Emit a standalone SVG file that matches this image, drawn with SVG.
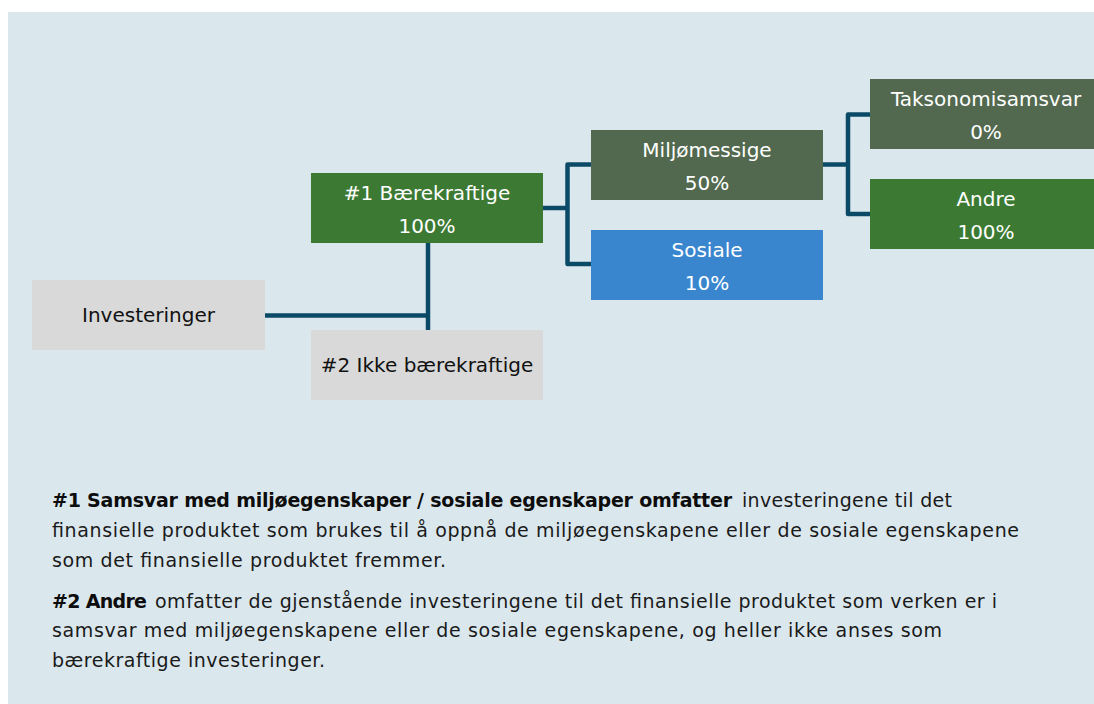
<svg xmlns="http://www.w3.org/2000/svg" width="1094" height="704" viewBox="0 0 1094 704">
<style>
.nt{font-family:"DejaVu Sans","Liberation Sans",Arial,sans-serif;font-size:20px;text-anchor:middle}
.w{fill:#ffffff}
.k{fill:#111111}
.body{font-family:"DejaVu Sans","Liberation Sans",Arial,sans-serif;font-size:19px;fill:#1a1a1a}
.b{font-weight:bold;fill:#0d0d0d}
.c{fill:none;stroke:#0b4a66;stroke-width:4.5;stroke-linejoin:round;stroke-linecap:butt}
</style>
<rect x="0" y="0" width="1094" height="704" fill="#ffffff"/>
<rect x="8" y="12" width="1086" height="692" fill="#dae8ee"/>
<g id="connectors">
<path class="c" d="M265 315.5 H428"/>
<path class="c" d="M428 243 V330"/>
<path class="c" d="M543 208 H567.5"/>
<path class="c" d="M591 164.5 H567.5 V264 H591"/>
<path class="c" d="M823 164.5 H848"/>
<path class="c" d="M870 114.5 H848 V214 H870"/>
</g>
<g id="investeringer">
<rect x="32" y="280" width="233" height="70" fill="#d9d9d9"/>
<text class="nt k" x="148.5" y="322">Investeringer</text>
</g>
<g id="baerekraftige">
<rect x="311" y="173" width="232" height="70" fill="#3c7a34"/>
<text class="nt w" x="427" y="200">#1 Bærekraftige</text>
<text class="nt w" x="427" y="233">100%</text>
</g>
<g id="ikke-baerekraftige">
<rect x="311" y="330" width="232" height="70" fill="#d9d9d9"/>
<text class="nt k" x="427" y="372">#2 Ikke bærekraftige</text>
</g>
<g id="miljomessige">
<rect x="591" y="130" width="232" height="70" fill="#52694f"/>
<text class="nt w" x="707" y="156.5">Miljømessige</text>
<text class="nt w" x="707" y="189.5">50%</text>
</g>
<g id="sosiale">
<rect x="591" y="230" width="232" height="70" fill="#3986cf"/>
<text class="nt w" x="707" y="256.5">Sosiale</text>
<text class="nt w" x="707" y="289.5">10%</text>
</g>
<g id="taksonomisamsvar">
<rect x="870" y="79" width="232" height="70" fill="#52694f"/>
<text class="nt w" x="986" y="106">Taksonomisamsvar</text>
<text class="nt w" x="986" y="139">0%</text>
</g>
<g id="andre">
<rect x="870" y="179" width="232" height="70" fill="#3c7a34"/>
<text class="nt w" x="986" y="206">Andre</text>
<text class="nt w" x="986" y="238.5">100%</text>
</g>
<g id="footnotes">
<text class="body b" x="52" y="507" textLength="680" lengthAdjust="spacing">#1 Samsvar med miljøegenskaper / sosiale egenskaper omfatter</text>
<text class="body" x="742" y="507" textLength="210" lengthAdjust="spacing">investeringene til det</text>
<text class="body" x="52" y="537" textLength="967" lengthAdjust="spacing">finansielle produktet som brukes til å oppnå de miljøegenskapene eller de sosiale egenskapene</text>
<text class="body" x="52" y="567" textLength="394" lengthAdjust="spacing">som det finansielle produktet fremmer.</text>
<text class="body b" x="52" y="608" textLength="95" lengthAdjust="spacing">#2 Andre</text>
<text class="body" x="155" y="608" textLength="842" lengthAdjust="spacing">omfatter de gjenstående investeringene til det finansielle produktet som verken er i</text>
<text class="body" x="52" y="637" textLength="890" lengthAdjust="spacing">samsvar med miljøegenskapene eller de sosiale egenskapene, og heller ikke anses som</text>
<text class="body" x="52" y="667" textLength="273" lengthAdjust="spacing">bærekraftige investeringer.</text>
</g>
</svg>
